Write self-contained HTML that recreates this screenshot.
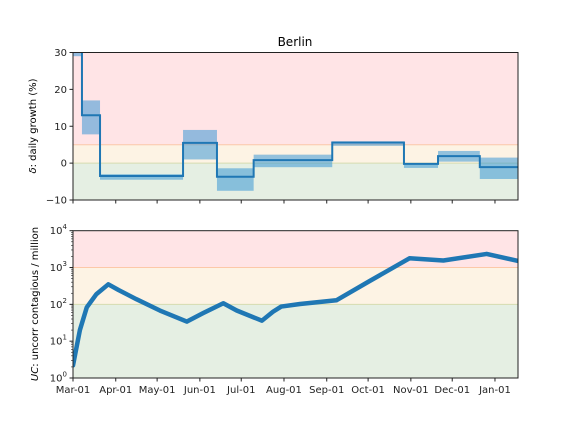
<!DOCTYPE html>
<html><head><meta charset="utf-8"><style>
body{margin:0;background:#fff;}
svg{font-family:"DejaVu Sans","Liberation Sans",sans-serif;}
</style></head><body>
<svg id="chart" width="576" height="432" viewBox="0 0 576 432"></svg>
<script>
// Top panel: piecewise growth rate segments (day offsets from Mar-01)
const segStart = [0, 6.5, 19.6, 79.8, 104.4, 131, 188, 240, 264.7, 295];
const segEnd   = [6.5, 19.6, 79.8, 104.4, 131, 188, 240, 264.7, 295, 322.7];
const growth   = [32, 13, -3.5, 5.5, -3.7, 0.8, 5.6, -0.2, 1.9, -1.1];
const bandLo   = [29, 7.8, -4.5, 1, -7.5, -1.1, 4.7, -1.3, 0.4, -4.3];
const bandHi   = [31, 17, -3, 9, -1.4, 2.3, 5.9, 0, 3.3, 1.5];
// Bottom panel: contagious per million
const ucDays   = [0, 5, 10, 17, 25.6, 33, 46, 63, 82.5, 94.5, 109, 118.7, 137, 145, 151, 164.6, 191, 215, 244, 268.6, 300, 322.7];
const ucVals   = [2.2, 20, 83, 190, 350, 245, 138, 68, 34, 58, 107, 68, 36, 63, 87, 102, 129, 427, 1780, 1550, 2340, 1510];
const monthLabels = ["Mar-01","Apr-01","May-01","Jun-01","Jul-01","Aug-01","Sep-01","Oct-01","Nov-01","Dec-01","Jan-01"];
const monthDays   = [0,31,61,92,122,153,184,214,245,275,306];
const topTicks = [30,20,10,0,-10];

const NS="http://www.w3.org/2000/svg";
const svg=document.getElementById('chart');
function mk(tag,attrs,parent){const e=document.createElementNS(NS,tag);for(const k in attrs)e.setAttribute(k,attrs[k]);(parent||svg).appendChild(e);return e;}
const X0=73,X1=518,DMAX=322.7;
const x=d=>X0+(d/DMAX)*(X1-X0);
const T0=52.5,T1=200;
const yT=v=>T1-(v+10)/40*(T1-T0);
const B0=230.7,B1=378;
const yB=v=>B1-Math.log10(v)/4*(B1-B0);

const defs=mk('defs',{});
const c1=mk('clipPath',{id:'ct'},defs);mk('rect',{x:X0,y:T0,width:X1-X0,height:T1-T0},c1);
const c2=mk('clipPath',{id:'cb'},defs);mk('rect',{x:X0,y:B0,width:X1-X0,height:B1-B0},c2);

let z;
z=mk('rect',{x:X0,y:T0,width:X1-X0,height:yT(5)-T0,fill:'#ffe4e6'});
z=mk('rect',{x:X0,y:yT(5),width:X1-X0,height:yT(0)-yT(5),fill:'#fdf3e4'});
z=mk('rect',{x:X0,y:yT(0),width:X1-X0,height:T1-yT(0),fill:'#e5efe3'});
mk('line',{x1:X0,x2:X1,y1:yT(5),y2:yT(5),stroke:'#fcc8a8','stroke-width':1});
mk('line',{x1:X0,x2:X1,y1:yT(0),y2:yT(0),stroke:'#d6dcb0','stroke-width':1});
const gt=mk('g',{'clip-path':'url(#ct)'});
for(let i=0;i<segStart.length;i++){
  const r=mk('rect',{x:x(segStart[i]),y:yT(bandHi[i]),width:x(segEnd[i])-x(segStart[i]),height:yT(bandLo[i])-yT(bandHi[i]),fill:'#2a8fd4','fill-opacity':0.5},gt);
  
  
}
let d='';
for(let i=0;i<segStart.length;i++){
  d+=(i===0?'M':'L')+x(segStart[i])+','+yT(growth[i])+' L'+x(segEnd[i])+','+yT(growth[i])+' ';
}
const gl=mk('path',{d:d,fill:'none',stroke:'#1f77b4','stroke-width':2},gt);


mk('rect',{x:X0,y:T0,width:X1-X0,height:T1-T0,fill:'none',stroke:'#222','stroke-width':1});

z=mk('rect',{x:X0,y:B0,width:X1-X0,height:yB(1000)-B0,fill:'#ffe4e6'});
z=mk('rect',{x:X0,y:yB(1000),width:X1-X0,height:yB(100)-yB(1000),fill:'#fdf3e4'});
z=mk('rect',{x:X0,y:yB(100),width:X1-X0,height:B1-yB(100),fill:'#e5efe3'});
mk('line',{x1:X0,x2:X1,y1:yB(1000),y2:yB(1000),stroke:'#fcc8a8','stroke-width':1});
mk('line',{x1:X0,x2:X1,y1:yB(100),y2:yB(100),stroke:'#d6dcb0','stroke-width':1});
const gb=mk('g',{'clip-path':'url(#cb)'});
const pts=ucDays.map((dd,i)=>x(dd)+','+yB(ucVals[i])).join(' ');
const ul=mk('polyline',{points:pts,fill:'none',stroke:'#1f77b4','stroke-width':4.5,'stroke-linejoin':'round','stroke-linecap':'round'},gb);


mk('rect',{x:X0,y:B0,width:X1-X0,height:B1-B0,fill:'none',stroke:'#222','stroke-width':1});

monthDays.forEach((md,i)=>{
  const xx=x(md);
  mk('line',{x1:xx,x2:xx,y1:T1,y2:T1+3.5,stroke:'#222'});
  mk('line',{x1:xx,x2:xx,y1:B1,y2:B1+3.5,stroke:'#222'});
  const t=mk('text',{x:xx,y:B1+15,'text-anchor':'middle','font-size':10,fill:'#222'});
  t.textContent=monthLabels[i];
  
  
});
topTicks.forEach(v=>{
  const yy=yT(v);
  mk('line',{x1:X0-3.5,x2:X0,y1:yy,y2:yy,stroke:'#222'});
  const t=mk('text',{x:X0-6,y:yy+3.5,'text-anchor':'end','font-size':10,fill:'#222'});
  t.textContent=(v<0?'\u2212':'')+Math.abs(v);
  
  
});
for(let p=0;p<=4;p++){
  const yy=yB(Math.pow(10,p));
  mk('line',{x1:X0-3.5,x2:X0,y1:yy,y2:yy,stroke:'#222'});
  const t=mk('text',{x:X0-6,y:yy+3.5,'text-anchor':'end','font-size':10,fill:'#222'});
  t.innerHTML='10<tspan dy="-5" font-size="7">'+p+'</tspan>';
  
  
  if(p<4)for(let m=2;m<=9;m++){const ym=yB(m*Math.pow(10,p));mk('line',{x1:X0-2,x2:X0,y1:ym,y2:ym,stroke:'#222','stroke-width':0.6});}
}
let t=mk('text',{x:295,y:46,'text-anchor':'middle','font-size':12,fill:'#000'});t.textContent='Berlin';

t=mk('text',{x:0,y:0,transform:'translate(36,126) rotate(-90)','text-anchor':'middle','font-size':10,fill:'#000'});
t.innerHTML='<tspan font-style="italic">δ</tspan>: daily growth (%)';

t=mk('text',{x:0,y:0,transform:'translate(38,304) rotate(-90)','text-anchor':'middle','font-size':10,fill:'#000'});
t.innerHTML='<tspan font-style="italic">UC</tspan>: uncorr contagious / million';

</script>
</body></html>
